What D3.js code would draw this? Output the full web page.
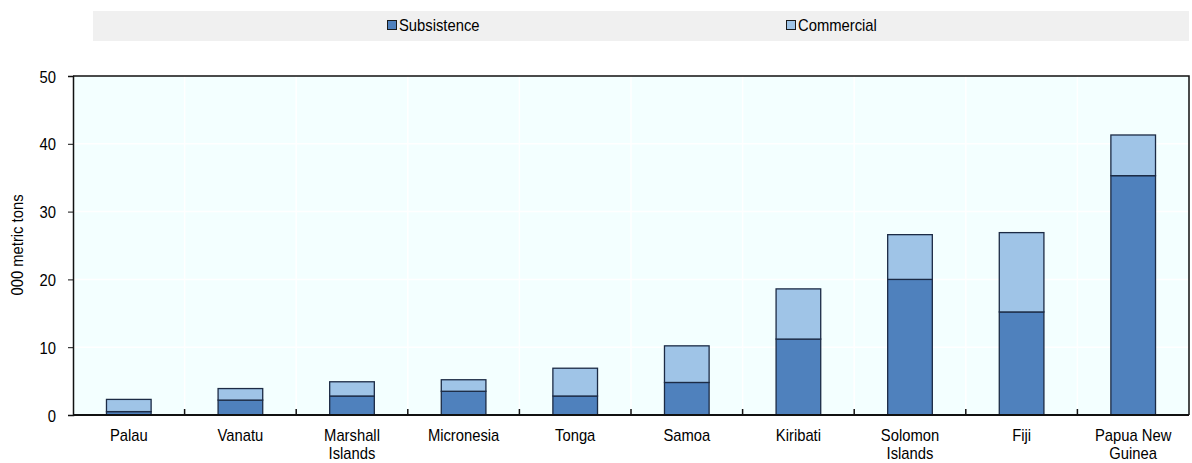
<!DOCTYPE html>
<html><head><meta charset="utf-8">
<script src="https://cdn.jsdelivr.net/npm/d3@7"></script>
<style>
body{margin:0;background:#fff;}
svg text{font-family:"Liberation Sans",Arial,sans-serif;fill:#000;}
</style></head>
<body><svg id="c" width="1192" height="463"></svg>
<script>
const categories = ["Palau","Vanatu","Marshall Islands","Micronesia","Tonga","Samoa","Kiribati","Solomon Islands","Fiji","Papua New Guinea"];
const subsistence = [0.5, 2.2, 2.8, 3.5, 2.8, 4.8, 11.2, 20.0, 15.2, 35.3];
const commercial  = [1.8, 1.7, 2.1, 1.7, 4.1, 5.4, 7.4, 6.6, 11.7, 6.0];
const yTicks = [0, 10, 20, 30, 40, 50];
const seriesNames = ["Subsistence", "Commercial"];
const colors = ["#4f81bd", "#9fc4e7"];

const FS = 17, SX = 0.87;
const svg = d3.select("#c");
const m = {l:73, r:1189, t:76, b:415};
const x = d3.scaleBand().domain(categories).range([m.l, m.r]).paddingInner(0).paddingOuter(0);
const y = d3.scaleLinear().domain([0, 50]).range([m.b, m.t]);

// condensed text helper
function ctext(parent, px, py, str, anchor, rot) {
  const g = parent.append("g").attr("transform", `translate(${px},${py})` + (rot ? ` rotate(${rot})` : ""));
  return g.append("text").attr("transform", `scale(${SX},1)`).attr("font-size", FS)
    .attr("text-anchor", anchor || "start").text(str);
}

// legend
svg.append("rect").attr("x",93).attr("y",11).attr("width",1096).attr("height",30).attr("fill","#f0f0f0");
const legX = [387, 786];
seriesNames.forEach((n,i)=>{
  svg.append("rect").attr("x",legX[i]+0.5).attr("y",20.5).attr("width",9).attr("height",9)
    .attr("fill",colors[i]).attr("stroke","#1a1a1a").attr("stroke-width",1);
  ctext(svg, legX[i]+12, 31, n, "start");
});

// plot bg
svg.append("rect").attr("x",m.l).attr("y",m.t).attr("width",m.r-m.l).attr("height",m.b-m.t).attr("fill","#f3ffff");

// gridlines
svg.append("g").selectAll("line").data(yTicks.filter(d=>d>0&&d<50)).join("line")
  .attr("x1",m.l).attr("x2",m.r).attr("y1",d=>y(d)).attr("y2",d=>y(d))
  .attr("stroke","#fff").attr("stroke-width",1.5);
svg.append("g").selectAll("line").data(categories.slice(1)).join("line")
  .attr("x1",d=>x(d)).attr("x2",d=>x(d)).attr("y1",m.t).attr("y2",m.b)
  .attr("stroke","#fff").attr("stroke-width",1.5);

// stacked bars
const stackData = categories.map((c,i)=>({cat:c, Subsistence:subsistence[i], Commercial:commercial[i]}));
const stack = d3.stack().keys(seriesNames)(stackData);
const bw = x.bandwidth()*0.4;
svg.append("g").selectAll("g").data(stack).join("g")
  .attr("fill",(d,i)=>colors[i])
  .selectAll("rect").data(d=>d).join("rect")
  .attr("x",d=>x(d.data.cat)+x.bandwidth()/2-bw/2)
  .attr("width",bw)
  .attr("y",d=>y(d[1]))
  .attr("height",d=>y(d[0])-y(d[1]))
  .attr("stroke","#1c2b45").attr("stroke-width",1.3);

// frame top/right
svg.append("path").attr("d",`M${m.l},${m.t}H${m.r}V${m.b}`).attr("fill","none").attr("stroke","#111").attr("stroke-width",1.5);

// y axis
const ya = svg.append("g").attr("transform",`translate(${m.l},0)`)
  .call(d3.axisLeft(y).tickValues(yTicks).tickSize(5).tickFormat(d3.format("d")));
ya.select(".domain").attr("stroke","#111").attr("stroke-width",1.5);
ya.selectAll(".tick line").attr("stroke","#111");
ya.selectAll(".tick").filter(d=>d===0||d===50).select("line").remove();
ya.selectAll(".tick text").remove();
ya.selectAll(".tick").each(function(d){
  ctext(d3.select(this), -17, 6, d3.format("d")(d), "end");
});

ctext(svg, 23, 245, "000 metric tons", "middle", -90);

// x axis
const xa = svg.append("g").attr("transform",`translate(0,${m.b})`);
xa.append("line").attr("x1",m.l).attr("x2",m.r).attr("y1",0).attr("y2",0).attr("stroke","#111").attr("stroke-width",2.2);
xa.selectAll("line.tk").data(categories.slice(1)).join("line").attr("class","tk")
  .attr("x1",d=>x(d)).attr("x2",d=>x(d)).attr("y1",0).attr("y2",-6).attr("stroke","#111").attr("stroke-width",1.5);
const lines = {"Marshall Islands":["Marshall","Islands"],"Solomon Islands":["Solomon","Islands"],"Papua New Guinea":["Papua New","Guinea"]};
categories.forEach(c=>{
  const parts = lines[c] || [c];
  parts.forEach((p,i)=>ctext(xa, x(c)+x.bandwidth()/2, 26+i*18, p, "middle"));
});
</script></body></html>
